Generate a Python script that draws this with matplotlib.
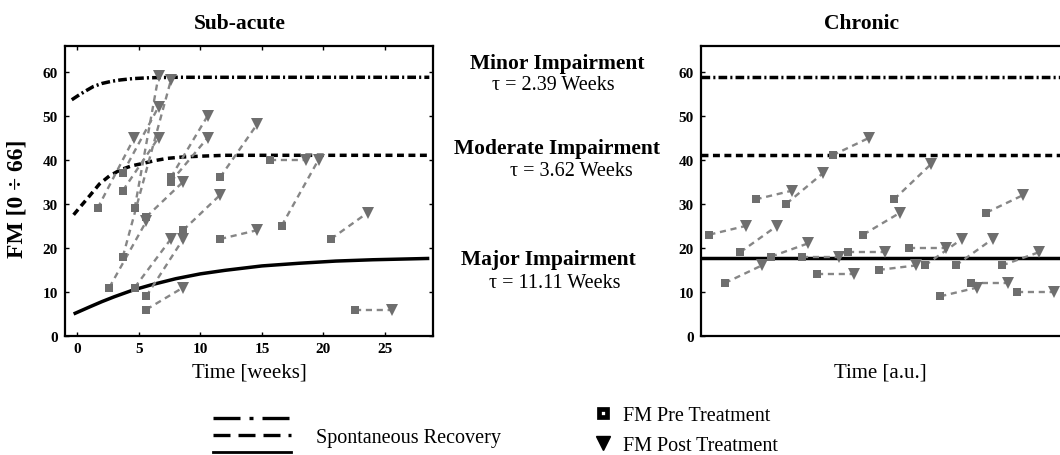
import matplotlib
matplotlib.use("Agg")
import matplotlib.pyplot as plt
from matplotlib.lines import Line2D

plt.rcParams['font.family'] = ['Liberation Serif', 'DejaVu Serif']

# ---------------- data ----------------
# spontaneous recovery curves (sub-acute)
minor_t = [-0.45, 0.2, 0.8, 1.3, 2.0, 2.8, 3.5, 4.5, 5.9, 8.0, 12.0, 20.0, 28.6]
minor_v = [53.6, 54.8, 55.8, 56.6, 57.3, 57.8, 58.1, 58.4, 58.6, 58.7, 58.7, 58.7, 58.7]
moderate_t = [-0.3, 0.3, 1.0, 1.8, 2.6, 3.5, 4.4, 5.4, 6.3, 7.3, 8.5, 10.0, 12.0, 15.0, 20.0, 28.6]
moderate_v = [27.5, 29.5, 31.8, 34.5, 36.3, 37.7, 38.6, 39.2, 39.8, 40.3, 40.6, 40.8, 41.0, 41.0, 41.0, 41.0]
major_t = [-0.3, 1.0, 2.0, 3.0, 4.5, 6.0, 8.0, 10.0, 12.0, 15.0, 18.0, 21.0, 24.0, 28.6]
major_v = [5.0, 6.6, 7.8, 8.9, 10.4, 11.6, 13.0, 14.1, 14.9, 15.9, 16.5, 17.0, 17.3, 17.6]

# plateau levels drawn in the chronic panel
minor_plateau = 58.7
moderate_plateau = 41.0
major_plateau = 17.8

# sub-acute patients: pre (square) -> post (triangle)
sub_pre_t = [1.65, 2.6, 3.7, 3.7, 3.7, 4.66, 4.66, 5.6, 5.6, 5.6, 7.6, 7.6, 8.6, 11.6, 11.6, 15.65, 16.6, 20.6, 22.6]
sub_pre_v = [29, 11, 37, 33, 18, 29, 11, 27, 9, 6, 36, 35, 24, 36, 22, 40, 25, 22, 6]
sub_post_t = [4.63, 5.6, 6.6, 6.6, 7.6, 6.6, 7.6, 8.6, 8.6, 8.6, 10.6, 10.6, 11.6, 14.6, 14.6, 18.6, 19.6, 23.6, 25.6]
sub_post_v = [45, 26, 52, 45, 58, 59, 22, 35, 22, 11, 50, 45, 32, 48, 24, 40, 40, 28, 6]

# chronic patients (time in arbitrary units)
chr_pre_x = [1, 2, 3, 4, 5, 6, 7, 8, 9, 10, 11, 12, 13, 14, 15, 16, 17, 18, 19, 20, 21]
chr_pre_v = [23, 12, 19, 31, 18, 30, 18, 14, 41, 19, 23, 15, 31, 20, 16, 9, 16, 12, 28, 16, 10]
chr_post_x = [3.4, 4.4, 5.4, 6.4, 7.4, 8.4, 9.4, 10.4, 11.4, 12.4, 13.4, 14.4, 15.4, 16.4, 17.4, 18.4, 19.4, 20.4, 21.4, 22.4, 23.4]
chr_post_v = [25, 16, 25, 33, 21, 37, 18, 14, 45, 19, 28, 16, 39, 20, 22, 11, 22, 12, 32, 19, 10]

sub_xticks = [0, 5, 10, 15, 20, 25]
yticks = [0, 10, 20, 30, 40, 50, 60]

# ---------------- styles ----------------
GRAY = '#6e6e6e'
DASHGRAY = '#868686'
LW = 2.5
dashdot = (0, (2.5, 0.9, 0.6, 0.9))
dashed = (0, (2.0, 1.3))

fig = plt.figure(figsize=(10.6, 4.56), dpi=100)
W, H = 1060.0, 456.0

def box(l, r, t, b):
    return [l / W, 1 - b / H, (r - l) / W, (b - t) / H]

ax1 = fig.add_axes(box(65, 433, 47, 337))
ax2 = fig.add_axes(box(700.7, 1068, 47, 337))

for ax in (ax1, ax2):
    ax.set_ylim(0, 65.8)
    ax.set_yticks(yticks)
    for s in ax.spines.values():
        s.set_linewidth(1.6)
    ax.tick_params(direction='in', length=3, width=1, pad=5, labelsize=11)
    for lab in ax.get_yticklabels():
        lab.set_fontweight('bold')

# sub-acute panel
ax1.set_xlim(-1, 28.9)
ax1.set_xticks(sub_xticks)
ax1.tick_params(axis='x', pad=4, top=True)
ax1.tick_params(axis='y', right=True)
for lab in ax1.get_xticklabels():
    lab.set_fontweight('bold')

ax1.plot(minor_t, minor_v, color='black', lw=LW, linestyle=dashdot)
ax1.plot(moderate_t, moderate_v, color='black', lw=LW, linestyle=dashed)
ax1.plot(major_t, major_v, color='black', lw=LW, solid_capstyle='butt')

for xa, ya, xb, yb in zip(sub_pre_t, sub_pre_v, sub_post_t, sub_post_v):
    ax1.plot([xa, xb], [ya, yb], color=DASHGRAY, lw=1.7, linestyle=(0, (2.6, 2.0)), zorder=3)
ax1.plot(sub_pre_t, sub_pre_v, 's', color=GRAY, ms=6.4, mew=0, zorder=4)
ax1.plot(sub_post_t, sub_post_v, 'v', color=GRAY, ms=8.8, mew=0, zorder=4)

ax1.set_xlabel('Time [weeks]', fontsize=15, va='center')
ax1.xaxis.set_label_coords(0.5, -0.125)

# chronic panel
ax2.set_xlim(0.437, 24.3)
ax2.set_xticks([])
ax2.axhline(minor_plateau, color='black', lw=LW, linestyle=dashdot)
ax2.axhline(moderate_plateau, color='black', lw=LW, linestyle=dashed)
ax2.axhline(major_plateau, color='black', lw=LW)
for xa, ya, xb, yb in zip(chr_pre_x, chr_pre_v, chr_post_x, chr_post_v):
    ax2.plot([xa, xb], [ya, yb], color=DASHGRAY, lw=1.7, linestyle=(0, (2.6, 2.0)), zorder=3)
ax2.plot(chr_pre_x, chr_pre_v, 's', color=GRAY, ms=6.4, mew=0, zorder=4)
ax2.plot(chr_post_x, chr_post_v, 'v', color=GRAY, ms=8.8, mew=0, zorder=4)
ax2.set_xlabel('Time [a.u.]', fontsize=15, va='center')
ax2.xaxis.set_label_coords(0.488, -0.125)

# titles / labels
def ftext(x, y, s, **kw):
    fig.text(x / W, 1 - y / H, s, ha='center', va='center', **kw)

ftext(240, 24, 'Sub-acute', fontsize=15.5, fontweight='bold')
ftext(862, 24, 'Chronic', fontsize=15.5, fontweight='bold')
ftext(17, 199, 'FM [0 ÷ 66]', fontsize=17, fontweight='bold', rotation=90)

ftext(557, 64, 'Minor Impairment', fontsize=15.5, fontweight='bold')
ftext(553, 85, 'τ = 2.39 Weeks', fontsize=14.5)
ftext(557, 149, 'Moderate Impairment', fontsize=15.5, fontweight='bold')
ftext(571, 172, 'τ = 3.62 Weeks', fontsize=14.5)
ftext(548, 260, 'Major Impairment', fontsize=15.5, fontweight='bold')
ftext(555, 283, 'τ = 11.11 Weeks', fontsize=14.5)

# legends
h1 = [Line2D([], [], color='black', lw=2.4, linestyle=(0, (8.1, 2.7, 1.2, 2.7))),
      Line2D([], [], color='black', lw=2.4, linestyle=(0, (5.1, 2.4))),
      Line2D([], [], color='black', lw=2.0)]
leg1 = fig.legend(h1, [' ', 'Spontaneous Recovery', ' '], loc='upper left',
                  bbox_to_anchor=(213 / W, 1 - 412 / H), frameon=False,
                  fontsize=14.5, handlelength=3.85, handletextpad=1.25,
                  labelspacing=-0.1, borderpad=0, borderaxespad=0)
h2 = [Line2D([], [], marker='s', color='black', markerfacecolor='white',
             markeredgecolor='black', mew=3.4, ms=6.3, linestyle='none'),
      Line2D([], [], marker='v', color='black', ms=10, linestyle='none')]
leg2 = fig.legend(h2, ['FM Pre Treatment', 'FM Post Treatment'], loc='upper left',
                  bbox_to_anchor=(593 / W, 1 - 407 / H), frameon=False,
                  fontsize=14.5, handlelength=1.0, handletextpad=0.5,
                  labelspacing=0.55, borderpad=0, borderaxespad=0)

fig.savefig('out.png', dpi=100)
